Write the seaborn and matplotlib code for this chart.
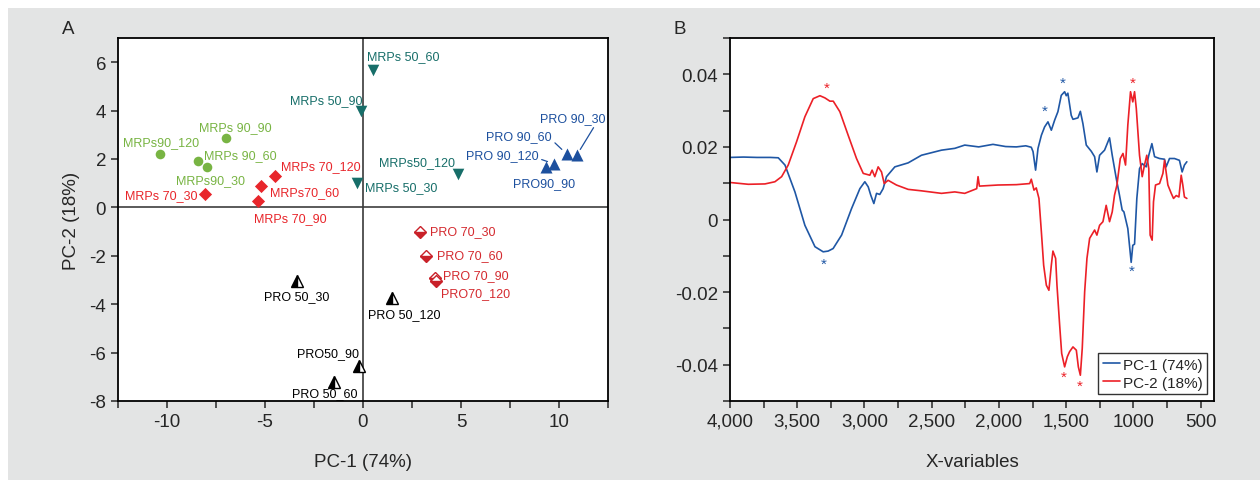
import numpy as np
import pandas as pd
import seaborn as sns
import matplotlib.pyplot as plt
from matplotlib.patches import Rectangle
from matplotlib.ticker import MultipleLocator, FuncFormatter

# ---- panel A: PCA scores ----
samples = ['MRPs 50_30', 'MRPs 50_60', 'MRPs 50_90', 'MRPs50_120',
           'MRPs90_30', 'MRPs 90_60', 'MRPs 90_90', 'MRPs90_120',
           'MRPs 70_30', 'MRPs70_60', 'MRPs 70_90', 'MRPs 70_120',
           'PRO 90_30', 'PRO 90_60', 'PRO90_90', 'PRO 90_120',
           'PRO 70_30', 'PRO 70_60', 'PRO 70_90', 'PRO70_120',
           'PRO 50_30', 'PRO 50_60', 'PRO50_90', 'PRO 50_120']
groups = (['MRPs 50'] * 4 + ['MRPs 90'] * 4 + ['MRPs 70'] * 4 +
          ['PRO 90'] * 4 + ['PRO 70'] * 4 + ['PRO 50'] * 4)
pc1_scores = [-0.3, 0.5, -0.1, 4.85,
              -7.96, -8.4, -7.0, -10.36,
              -8.06, -5.2, -5.36, -4.5,
              10.9, 10.4, 9.35, 9.75,
              2.9, 3.2, 3.67, 3.72,
              -3.37, -1.48, -0.2, 1.48]
pc2_scores = [1.0, 5.66, 4.0, 1.36,
              1.65, 1.9, 2.85, 2.19,
              0.54, 0.9, 0.25, 1.28,
              2.15, 2.2, 1.65, 1.8,
              -1.0, -2.0, -2.93, -3.05,
              -3.04, -7.23, -6.56, -3.73]

# ---- panel B: loadings ----
wn_pc1 = [4000, 3900, 3800, 3700, 3641, 3591, 3517, 3443, 3368, 3307,
          3270, 3233, 3170, 3096, 3034, 2997, 2972, 2953, 2930, 2910,
          2886, 2861, 2836, 2774, 2675, 2576, 2427, 2328, 2254, 2150,
          2044, 1950, 1870, 1800, 1759, 1746, 1727, 1709, 1684, 1660,
          1635, 1610, 1585, 1561, 1536, 1511, 1499, 1487, 1462, 1449,
          1430, 1412, 1394, 1375, 1350, 1313, 1288, 1271, 1251, 1214,
          1177, 1157, 1127, 1103, 1083, 1070, 1041, 1016, 1004, 991,
          974, 954, 934, 904, 885, 862, 842, 805, 768, 756,
          731, 694, 657, 637, 620, 602]
pc1_load = [0.0171, 0.0172, 0.0171, 0.0171, 0.0170, 0.0150, 0.0076, -0.0016, -0.0075, -0.0089,
            -0.0087, -0.0080, -0.0043, 0.0030, 0.0085, 0.0104, 0.0090, 0.0067, 0.0044, 0.0072,
            0.0069, 0.0085, 0.0118, 0.0145, 0.0156, 0.0177, 0.0191, 0.0196, 0.0205, 0.0200,
            0.0207, 0.0201, 0.0200, 0.0203, 0.0199, 0.0187, 0.0136, 0.0196, 0.0232, 0.0255,
            0.0269, 0.0246, 0.0274, 0.0297, 0.0342, 0.0352, 0.0341, 0.0348, 0.0287, 0.0276,
            0.0278, 0.0280, 0.0298, 0.0264, 0.0205, 0.0188, 0.0173, 0.0131, 0.0177, 0.0191,
            0.0225, 0.0177, 0.0113, 0.0067, 0.0026, 0.0021, -0.0025, -0.0118, -0.0071, -0.0068,
            0.0058, 0.0140, 0.0154, 0.0145, 0.0177, 0.0209, 0.0173, 0.0168, 0.0166, 0.0145,
            0.0168, 0.0168, 0.0163, 0.0131, 0.0150, 0.0159]

wn_pc2 = [4000, 3864, 3740, 3666, 3616, 3567, 3505, 3443, 3381, 3331,
          3294, 3257, 3232, 3183, 3121, 3059, 3009, 2960, 2943, 2923,
          2898, 2873, 2853, 2824, 2762, 2675, 2576, 2427, 2328, 2254,
          2165, 2155, 2145, 2006, 1870, 1771, 1759, 1739, 1722, 1702,
          1684, 1667, 1647, 1628, 1610, 1598, 1578, 1568, 1548, 1533,
          1511, 1491, 1474, 1449, 1424, 1409, 1394, 1380, 1362, 1345,
          1325, 1288, 1271, 1251, 1226, 1202, 1177, 1157, 1140, 1122,
          1097, 1077, 1058, 1041, 1021, 1004, 991, 978, 954, 934,
          917, 900, 885, 875, 860, 850, 835, 805, 780, 768,
          743, 718, 701, 681, 661, 644, 632, 620, 602]
pc2_load = [0.0102, 0.0097, 0.0098, 0.0104, 0.0118, 0.0150, 0.0214, 0.0283, 0.0333, 0.0341,
            0.0335, 0.0326, 0.0326, 0.0297, 0.0232, 0.0168, 0.0127, 0.0122, 0.0136, 0.0118,
            0.0145, 0.0131, 0.0099, 0.0108, 0.0095, 0.0083, 0.0079, 0.0072, 0.0076, 0.0072,
            0.0085, 0.0118, 0.0092, 0.0095, 0.0096, 0.0099, 0.0111, 0.0081, 0.0087, 0.0058,
            -0.0034, -0.0126, -0.0181, -0.0195, -0.0126, -0.0087, -0.0107, -0.0181, -0.0291, -0.0369,
            -0.0406, -0.0378, -0.0364, -0.0351, -0.0360, -0.0406, -0.0429, -0.0355, -0.0199, -0.0107,
            -0.0052, -0.0029, -0.0043, -0.0016, -0.0006, 0.0039, -0.0006, 0.0021, 0.0067, 0.0095,
            0.0168, 0.0182, 0.0150, 0.0260, 0.0352, 0.0324, 0.0352, 0.0306, 0.0177, 0.0118,
            0.0150, 0.0177, 0.0140, -0.0043, -0.0057, 0.0049, 0.0095, 0.0099, 0.0127, 0.0163,
            0.0095, 0.0072, 0.0058, 0.0066, 0.0062, 0.0122, 0.0095, 0.0062, 0.0058]

# marked bands (asterisks)
star_wn = [3282, 3300, 1660, 1524, 1008, 1010, 1517, 1400]
star_val = [0.0363, -0.0121, 0.0300, 0.0377, 0.0377, -0.0141, -0.0433, -0.0458]
star_pc = ['PC-2', 'PC-1', 'PC-1', 'PC-1', 'PC-2', 'PC-1', 'PC-2', 'PC-2']

# ---- styling ----
sns.set_style("ticks")
plt.rcParams['font.family'] = ['Liberation Sans', 'DejaVu Sans']
plt.rcParams['axes.unicode_minus'] = False

group_color = {'MRPs 50': '#176e69', 'MRPs 90': '#78b443', 'MRPs 70': '#e8262b',
               'PRO 90': '#1d509e', 'PRO 70': '#c92129', 'PRO 50': 'black'}
text_color = dict(group_color, **{'PRO 70': '#d42a2f'})
line_color = {'PC-1': '#1f57a5', 'PC-2': '#ec2027'}

# label offsets in pixels (dx, dy up, ha)
label_pos = {
    'MRPs 50_30': (8, -4, 'left'), 'MRPs 50_60': (-6, 14, 'left'),
    'MRPs 50_90': (1, 11, 'right'), 'MRPs50_120': (-3, 12, 'right'),
    'MRPs90_30': (4, -13, 'center'), 'MRPs 90_60': (6, 6, 'left'),
    'MRPs 90_90': (10, 11, 'center'), 'MRPs90_120': (1, 12, 'center'),
    'MRPs 70_30': (-8, -1, 'right'), 'MRPs70_60': (9, -6, 'left'),
    'MRPs 70_90': (32, -17, 'center'), 'MRPs 70_120': (6, 10, 'left'),
    'PRO 90_30': (-4, 37, 'center'), 'PRO 90_60': (-48, 18, 'center'),
    'PRO90_90': (-2, -16, 'center'), 'PRO 90_120': (-52, 9, 'center'),
    'PRO 70_30': (10, 1, 'left'), 'PRO 70_60': (11, 1, 'left'),
    'PRO 70_90': (8, 3, 'left'), 'PRO70_120': (5, -12, 'left'),
    'PRO 50_30': (0, -15, 'center'), 'PRO 50_60': (-9, -11, 'center'),
    'PRO50_90': (-31, 13, 'center'), 'PRO 50_120': (12, -16, 'center'),
}
leaders = {'PRO 90_30': (0.85, 0.0), 'PRO 90_60': (1.0, 0.2), 'PRO 90_120': (1.0, 0.2)}

px2pt = 0.72
fig = plt.figure(figsize=(12.6, 4.81), dpi=100)
fig.patches.append(Rectangle((8 / 1260, 0), 1, 472 / 481, transform=fig.transFigure,
                             facecolor='#e3e4e4', edgecolor='none', zorder=-10))
axA = fig.add_axes([118 / 1260, 79 / 481, 490 / 1260, 363 / 481])
axB = fig.add_axes([730 / 1260, 79 / 481, 484 / 1260, 363 / 481])

# ---- panel A ----
scores = pd.DataFrame({'sample': samples, 'group': groups, 'pc1': pc1_scores, 'pc2': pc2_scores})
axA.axhline(0, color='#5a5a5a', lw=1.4, zorder=1)
axA.axvline(0, color='#3a3a3a', lw=1.2, zorder=1)

solid = {'MRPs 50': ('v', 70), 'MRPs 90': ('o', 48), 'MRPs 70': ('D', 45), 'PRO 90': ('^', 75)}
for g, (m, s) in solid.items():
    sns.scatterplot(data=scores[scores.group == g], x='pc1', y='pc2', marker=m, s=s,
                    color=group_color[g], linewidth=0, legend=False, ax=axA, zorder=3)

half = {'PRO 70': ('D', 6.5, 'bottom'), 'PRO 50': ('^', 8, 'left')}
for g, (m, ms, fs) in half.items():
    sub = scores[scores.group == g]
    axA.plot(sub.pc1, sub.pc2, ls='none', marker=m, ms=ms, fillstyle=fs,
             mfc=group_color[g], mfcalt='white', mec=group_color[g], mew=1.0, zorder=3)

for _, r in scores.iterrows():
    dx, dy, ha = label_pos[r['sample']]
    kw = {}
    if r['sample'] in leaders:
        kw['arrowprops'] = dict(arrowstyle='-', color=group_color[r.group], lw=0.9,
                                relpos=leaders[r['sample']], shrinkA=0, shrinkB=5)
    axA.annotate(r['sample'], (r.pc1, r.pc2), xytext=(dx * px2pt, dy * px2pt),
                 textcoords='offset points', ha=ha, va='center', fontsize=9,
                 color=text_color[r.group], **kw)

axA.set_xlim(-12.5, 12.5)
axA.set_ylim(-8, 7)
axA.set_xticks([-10, -5, 0, 5, 10])
axA.xaxis.set_minor_locator(MultipleLocator(2.5))
axA.set_yticks(np.arange(-8, 7, 2))
axA.set_xlabel('PC-1 (74%)', fontsize=13.5, labelpad=17)
axA.set_ylabel('PC-2 (18%)', fontsize=13.5, labelpad=7)

# ---- panel B ----
sns.lineplot(x=wn_pc1, y=pc1_load, sort=False, estimator=None, color=line_color['PC-1'],
             lw=1.2, label='PC-1 (74%)', ax=axB)
sns.lineplot(x=wn_pc2, y=pc2_load, sort=False, estimator=None, color=line_color['PC-2'],
             lw=1.2, label='PC-2 (18%)', ax=axB)
for w, v, pc in zip(star_wn, star_val, star_pc):
    axB.text(w, v, '*', ha='center', va='center', fontsize=11, color=line_color[pc])

axB.set_xlim(4000, 400)
axB.set_ylim(-0.05, 0.05)
axB.set_xticks([4000, 3500, 3000, 2500, 2000, 1500, 1000, 500],
               labels=['4,000', '3,500', '3,000', '2,500', '2,000', '1,500', '1000', '500'])
axB.xaxis.set_minor_locator(MultipleLocator(250))
axB.set_yticks([-0.04, -0.02, 0, 0.02, 0.04])
axB.yaxis.set_major_formatter(FuncFormatter(lambda v, p: '0' if abs(v) < 1e-9 else f'{v:.2f}'))
axB.yaxis.set_minor_locator(MultipleLocator(0.01))
axB.set_xlabel('X-variables', fontsize=13.5, labelpad=17)
leg = axB.legend(loc='lower right', fontsize=11, frameon=True, fancybox=False,
                 edgecolor='black', handlelength=1.1, handletextpad=0.2,
                 borderaxespad=0.45, borderpad=0.3, labelspacing=0.25)
leg.get_frame().set_linewidth(1.0)

for ax in (axA, axB):
    ax.set_facecolor('white')
    for sp in ax.spines.values():
        sp.set_visible(True)
        sp.set_color('black')
        sp.set_linewidth(1.3)
    ax.tick_params(which='both', direction='out', length=5, width=1.1, labelsize=13.5,
                   top=False, right=False)

fig.text(68 / 1260, 1 - 30 / 481, 'A', ha='center', va='center', fontsize=13.5)
fig.text(680 / 1260, 1 - 30 / 481, 'B', ha='center', va='center', fontsize=13.5)

fig.savefig('out.png', dpi=100)
